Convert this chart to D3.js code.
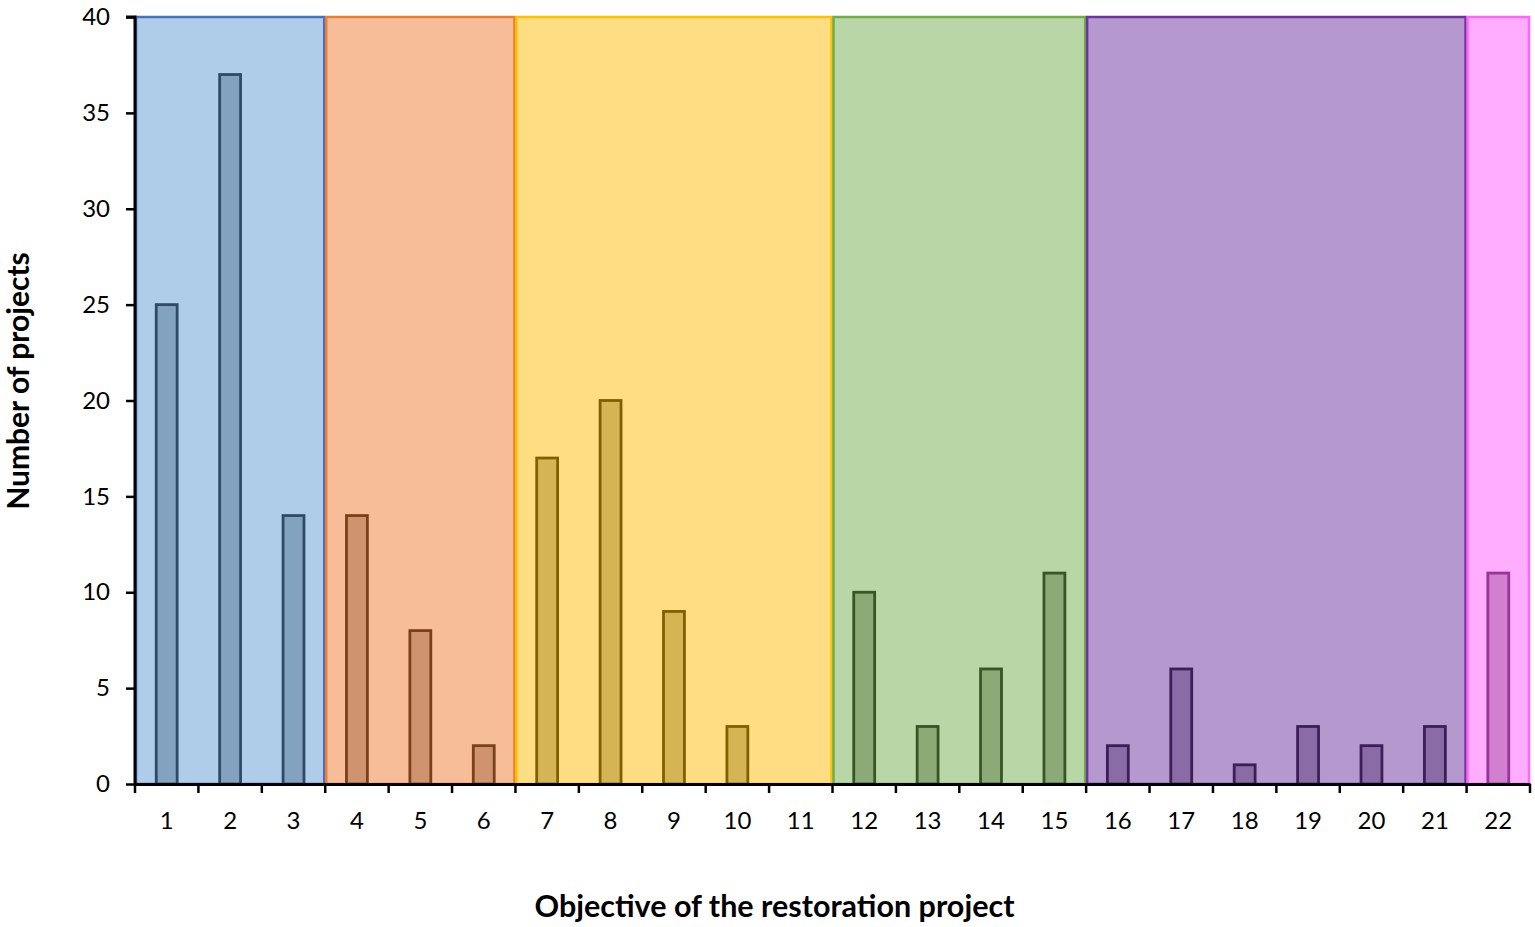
<!DOCTYPE html>
<html><head><meta charset="utf-8">
<script src="https://cdn.jsdelivr.net/npm/d3@7"></script>
<style>body{margin:0;background:#fff}svg{display:block}text{font-family:Lato,"Open Sans",sans-serif}</style>
</head><body>
<svg id="c" width="1535" height="927"></svg>
<script>
const categories = ["1","2","3","4","5","6","7","8","9","10","11","12","13","14","15","16","17","18","19","20","21","22"];
const values = [25,37,14,14,8,2,17,20,9,3,0,10,3,6,11,2,6,1,3,2,3,11];
const groupStart = ["1","4","7","12","16","22"];
const groupEnd   = ["3","6","11","15","21","22"];
const groupFill   = ["#AFCCE9","#F7BD98","#FFDD82","#B9D7A6","#B498CE","#FFADFF"];
const groupBorder = ["#4472C4","#ED7D31","#FFC000","#70AD47","#7030A0","#FF66FF"];
const barFill     = ["#82A2BF","#D09370","#D4B455","#8CAA77","#8A6BA6","#D37FD0"];
const barStroke   = ["#2E4A66","#7A4119","#7F6000","#375623","#3C1F57","#993399"];
const yTicks = [0,5,10,15,20,25,30,35,40];

const svg = d3.select("#c");
const m = {l:135, r:1530, t:17, b:784};
const x = d3.scaleBand().domain(categories).range([m.l, m.r]).paddingInner(0).paddingOuter(0);
const y = d3.scaleLinear().domain([0,40]).range([m.b, m.t]);
const groupOf = i => groupEnd.findIndex(e => categories.indexOf(e) >= i);

// group backgrounds
svg.append("g").selectAll("rect").data(groupStart).join("rect")
  .attr("x", (s,i) => x(s) + 1)
  .attr("width", (s,i) => x(groupEnd[i]) + x.bandwidth() - x(s) - 2)
  .attr("y", y(40))
  .attr("height", y(0) - y(40))
  .attr("fill", (s,i) => groupFill[i])
  .attr("stroke", (s,i) => groupBorder[i])
  .attr("stroke-width", 2.5);

// bars
const barData = values.map((v,i) => ({cat: categories[i], v, g: groupOf(i)})).filter(d => d.v > 0);
const bw = x.bandwidth() * 0.33;
svg.append("g").selectAll("rect").data(barData).join("rect")
  .attr("x", d => x(d.cat) + (x.bandwidth() - bw) / 2)
  .attr("width", bw)
  .attr("y", d => y(d.v))
  .attr("height", d => y(0) - y(d.v))
  .attr("fill", d => barFill[d.g])
  .attr("stroke", d => barStroke[d.g])
  .attr("stroke-width", 2.8);

// y axis
const ya = svg.append("g").attr("transform", `translate(${m.l},0)`)
  .call(d3.axisLeft(y).tickValues(yTicks).tickSize(9).tickPadding(16));
ya.select(".domain").attr("stroke", "#000").attr("stroke-width", 3).attr("d", `M-9,${y(40)}H0V${y(0)}`);
ya.selectAll(".tick line").attr("stroke", "#000").attr("stroke-width", 2.5);
ya.selectAll(".tick text").attr("font-size", 24).attr("fill", "#000").style("font-family","Lato, sans-serif");

// x axis
const xa = svg.append("g").attr("transform", `translate(0,${m.b})`)
  .call(d3.axisBottom(x).tickSize(0).tickPadding(28));
xa.select(".domain").attr("stroke", "#000").attr("stroke-width", 3);
xa.selectAll(".tick text").attr("font-size", 24).attr("fill", "#000").style("font-family","Lato, sans-serif");
const edges = categories.map(c => x(c)).concat([x(categories[categories.length-1]) + x.bandwidth()]);
xa.append("g").selectAll("line").data(edges).join("line")
  .attr("x1", d => d).attr("x2", d => d).attr("y1", 0).attr("y2", 9)
  .attr("stroke", "#000").attr("stroke-width", 2.5);

// titles
svg.append("text").attr("x", (m.l + m.r) / 2 - 58).attr("y", 917)
  .attr("text-anchor", "middle").attr("font-size", 30.5).attr("font-weight", "bold")
  .text("Objective of the restoration project");
svg.append("text").attr("transform", `translate(29,${381}) rotate(-90)`)
  .attr("text-anchor", "middle").attr("font-size", 30).attr("font-weight", "bold")
  .text("Number of projects");
</script>
</body></html>
